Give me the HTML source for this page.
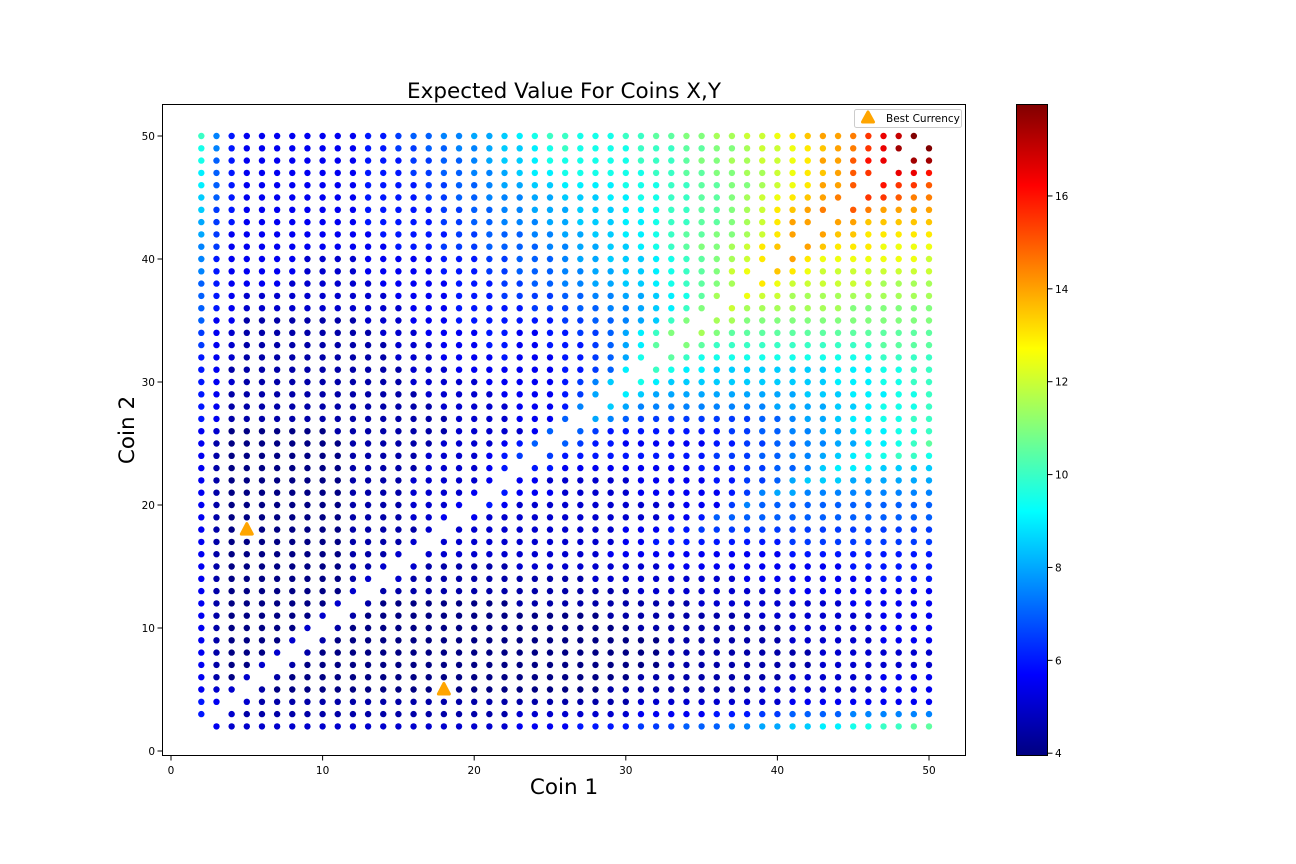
<!DOCTYPE html>
<html><head><meta charset="utf-8"><title>Expected Value For Coins X,Y</title>
<style>
html,body{margin:0;padding:0;background:#fff;}
svg{display:block;font-family:"DejaVu Sans","Liberation Sans",sans-serif;}
</style></head>
<body>
<svg id="fig" width="1296" height="864" viewBox="0 0 1296 864" xmlns="http://www.w3.org/2000/svg">
<defs>
<linearGradient id="jetGrad" x1="0" y1="1" x2="0" y2="0"></linearGradient>
</defs>
<rect x="0" y="0" width="1296" height="864" fill="#fff"/>
<text x="564" y="98" font-size="21.5" text-anchor="middle" fill="#000">Expected Value For Coins X,Y</text>
<g id="points"></g>
<g id="best"></g>
<rect x="162.5" y="104.5" width="803" height="651" fill="none" stroke="#000" stroke-width="1"/>
<g id="xticks"></g>
<g id="yticks"></g>
<text x="564" y="794" font-size="21.5" text-anchor="middle">Coin 1</text>
<text x="134" y="430" font-size="21.5" text-anchor="middle" transform="rotate(-90 134 430)">Coin 2</text>
<g>
<rect x="854.5" y="109.5" width="107" height="18" rx="2" fill="#fff" stroke="#ccc"/>
<path d="M868 112 L873.5 122 L862.5 122 Z" fill="#ffa500" stroke="#ffa500" stroke-width="3" stroke-linejoin="round"/>
<text x="886" y="122" font-size="10.5">Best Currency</text>
</g>
<g id="cbar">
<rect x="1016" y="104" width="32" height="652" fill="url(#jetGrad)"/>
<rect x="1016.5" y="104.5" width="31" height="651" fill="none" stroke="#000"/>
</g>
</svg>
<script>
const coin1 = [2,3,4,5,6,7,8,9,10,11,12,13,14,15,16,17,18,19,20,21,22,23,24,25,26,27,28,29,30,31,32,33,34,35,36,37,38,39,40,41,42,43,44,45,46,47,48,49,50];
const coin2 = [50,49,48,47,46,45,44,43,42,41,40,39,38,37,36,35,34,33,32,31,30,29,28,27,26,25,24,23,22,21,20,19,18,17,16,15,14,13,12,11,10,9,8,7,6,5,4,3,2];
// expected value per cell, coded: '0'=4.0, each next char +0.5 ; '.' = no point
const levelChars = "0123456789abcdefghijklmnopqrs";
const evRows = [
"c7433333333"+"4456677889"+"abccbbbccd"+"deeffgghij"+"kklnpqs.",
"b7433333333"+"4455667789"+"9abcbbbbcc"+"cddeefgghi"+"jklnpr.s",
"b6433333333"+"4445566789"+"9abbbbbbcc"+"cdeeffgghi"+"kkmop.rr",
"a6433333333"+"4445566778"+"9aabbbbbbc"+"cddeeffghi"+"jkmn.ppo",
"a6433333333"+"4444556678"+"899aaaabbb"+"ccddeefghi"+"kkm.onnm",
"96433333333"+"4444556677"+"788999aabb"+"ccddefghij"+"kl.nnmll",
"95433333333"+"4444455667"+"7888999aab"+"ccddefgijk"+"l.mlkkkk",
"85433333333"+"4444455667"+"7788999aab"+"ccddefgikk"+".kkjjjjj",
"85333333333"+"3444445566"+"6778899aab"+"cddeefgik."+"kjjiiiii",
"75333333333"+"3344455566"+"66778899ab"+"cdeefgij.k"+"jiiihhhh",
"74333332222"+"3333344455"+"666788999a"+"bcdefgi.ki"+"hhhhhhhg",
"74333332222"+"3333344455"+"666778899a"+"bcdegh.jih"+"gggggggg",
"64333322222"+"2333334445"+"566778899a"+"bcdef.ihgg"+"ggggffff",
"64322222222"+"2233334445"+"5556677889"+"abdf.hggff"+"ffffffff",
"64322222222"+"2223334444"+"4555667789"+"ace.gfffff"+"ffeeeeee",
"63311111111"+"2223334444"+"4445566789"+"ce.ffeeeee"+"eeeeeeee",
"53211111111"+"1222333344"+"33445568ace"+"."+"fe"+"dddddddddddddd",
"53211111111"+"1122233344"+"33444568ad"+"."+"ed"+"ccccccccccc"+"dddd",
"43211111111"+"1122233334"+"33344568b"+"."+"dc"+"bbbbbbbbbbbb"+"cccc",
"43111111111"+"1112223333"+"3334456a"+"."+"cbaa"+"99999999"+"aaabbcc",
"43211111111"+"1112222233"+"3334579"+"."+"ba"+"99999999999"+"aaabbcc",
"43111111111"+"1111222223"+"333458"+"."+"a9"+"8888888888"+"999aaabbc",
"43111111111"+"1111122222"+"33347"+"."+"98"+"777777777"+"888899abbbc",
"43111111111"+"1111112222"+"3336"+"."+"876"+"55555555"+"667889aabbcc",
"32000000011"+"1111112222"+"236"+"."+"6544444444"+"556677889aabbc",
"31000000001"+"1111122223"+"46"+"."+"65443"+"33333"+"4455667788aabcd",
"31000000001"+"1111222234"+"5"+"."+"54"+"444444444"+"555667789abbccb",
"31000000001"+"1111222234"+"."+"443"+"33333333"+"444556679aaa9999",
"31000000001"+"111222223."+"3322"+"2222"+"3333"+"34455689998"+"88888",
"31000000001"+"11122223.4"+"333"+"22222"+"333333"+"45788"+"777777777",
"31000000001"+"1112223.43"+"22222222222"+"333"+"57"+"666666666666",
"31000000001"+"111223.322"+"2222222222"+"33"+"4"+"666666666666666",
"31000000001"+"11112.2222"+"2222222"+"333"+"44"+"5555555555555555",
"31000000001"+"1112.22222"+"2222222"+"33"+"444444444"+"5555555555",
"31000000001"+"112.222222"+"222222"+"333333333333"+"4444444444",
"31000000001"+"12.2111111"+"2222222222"+"333333333333"+"444444",
"31000000001"+"2.21111111"+"11111"+"2222222222"+"333333333"+"4444",
"31000000002"+".111111111"+"11111111"+"2222222222"+"3333333333",
"3100000002."+"1000000000"+"111111111111"+"2222222222"+"333333",
"310000002.1"+"0000000000"+"000000"+"1111111111"+"22222222"+"3333",
"31000002.10"+"0000000000"+"00000000"+"1111111111"+"222222"+"3333",
"3100002.100"+"0000000000"+"0000000000"+"11111111"+"222222"+"3333",
"310002.1000"+"0000000000"+"0000000000"+"1111111111"+"22222222",
"31002.10000"+"0000000000"+"0000000000"+"1111111111"+"22222222",
"3102.100000"+"0000000000"+"00000000"+"1111111111"+"222222"+"3333",
"322.1000000"+"0000000000"+"000000"+"1111111111"+"22222222"+"3333",
"43.21111111"+"1111111111"+"11111111"+"2222222222"+"3333333333",
"4.211111111"+"1111111111"+"22222222"+"33333"+"444"+"55"+"6666"+"777777",
".3222222222"+"2222222222"+"3333"+"4444"+"555"+"666"+"77"+"88"+"99"+"aa"+"bb"+"cc"+"dd"
];
const bestX = [5, 18];
const bestY = [18, 5];
const xTickValues = [0, 10, 20, 30, 40, 50];
const yTickValues = [0, 10, 20, 30, 40, 50];
const cbarTickValues = [4, 6, 8, 10, 12, 14, 16];
const vmin = 3.94, vmax = 17.98;

const NS = "http://www.w3.org/2000/svg";
function xScale(v){ return 171 + 15.16 * v; }
function yScale(v){ return 751 - 12.3 * v; }
function cbScale(v){ return 756 - (v - vmin) / (vmax - vmin) * 652; }
function clip(a){ return Math.max(0, Math.min(1, a)); }
function jet(v){
  const t = clip((v - vmin) / (vmax - vmin));
  const r = clip(Math.min(4*t - 1.5, -4*t + 4.5));
  const g = clip(Math.min(4*t - 0.5, -4*t + 3.5));
  const b = clip(Math.min(4*t + 0.5, -4*t + 2.5));
  return "rgb(" + Math.round(r*255) + "," + Math.round(g*255) + "," + Math.round(b*255) + ")";
}
function mk(tag, attrs, parent){
  const e = document.createElementNS(NS, tag);
  for (const k in attrs) e.setAttribute(k, attrs[k]);
  parent.appendChild(e);
  return e;
}

// gradient
const grad = document.getElementById("jetGrad");
for (let i = 0; i <= 40; i++) {
  const v = vmin + (vmax - vmin) * i / 40;
  mk("stop", {offset: (i/40*100) + "%", "stop-color": jet(v)}, grad);
}

// points
const pg = document.getElementById("points");
evRows.forEach(function(row, ri){
  for (let ci = 0; ci < coin1.length && ci < row.length; ci++) {
    const ch = row[ci];
    if (ch === ".") continue;
    const idx = levelChars.indexOf(ch);
    if (idx < 0) continue;
    const val = 4 + 0.5 * idx;
    const c = mk("circle", {cx: xScale(coin1[ci]).toFixed(2), cy: yScale(coin2[ri]).toFixed(2), r: 3.2, fill: jet(val)}, pg);
    
    
  }
});

// best markers
const bg = document.getElementById("best");
for (let i = 0; i < bestX.length; i++) {
  const cx = xScale(bestX[i]), cy = yScale(bestY[i]);
  const p = mk("path", {d: "M"+cx+" "+(cy-6)+" L"+(cx+5.5)+" "+(cy+4.5)+" L"+(cx-5.5)+" "+(cy+4.5)+" Z", fill: "#ffa500", stroke: "#ffa500", "stroke-width": 3, "stroke-linejoin": "round"}, bg);
  
  
}

// x ticks
const xg = document.getElementById("xticks");
xTickValues.forEach(function(t){
  const x = xScale(t);
  const l = mk("line", {x1: x, x2: x, y1: 756, y2: 760.5, stroke: "#000", "stroke-width": 1}, xg);
  
  
  const tx = mk("text", {x: x, y: 774, "font-size": 10.5, "text-anchor": "middle"}, xg);
  tx.textContent = String(t);
  
  
});
// y ticks
const yg = document.getElementById("yticks");
yTickValues.forEach(function(t){
  const y = yScale(t);
  const l = mk("line", {x1: 157.5, x2: 162, y1: y, y2: y, stroke: "#000", "stroke-width": 1}, yg);
  
  
  const tx = mk("text", {x: 155, y: y + 4, "font-size": 10.5, "text-anchor": "end"}, yg);
  tx.textContent = String(t);
  
  
});
// colorbar ticks
const cg = document.getElementById("cbar");
cbarTickValues.forEach(function(t){
  const y = cbScale(t);
  const l = mk("line", {x1: 1048, x2: 1052.5, y1: y, y2: y, stroke: "#000", "stroke-width": 1}, cg);
  
  
  const tx = mk("text", {x: 1055, y: y + 4, "font-size": 10.5, "text-anchor": "start"}, cg);
  tx.textContent = String(t);
  
  
});
</script>
</body></html>
